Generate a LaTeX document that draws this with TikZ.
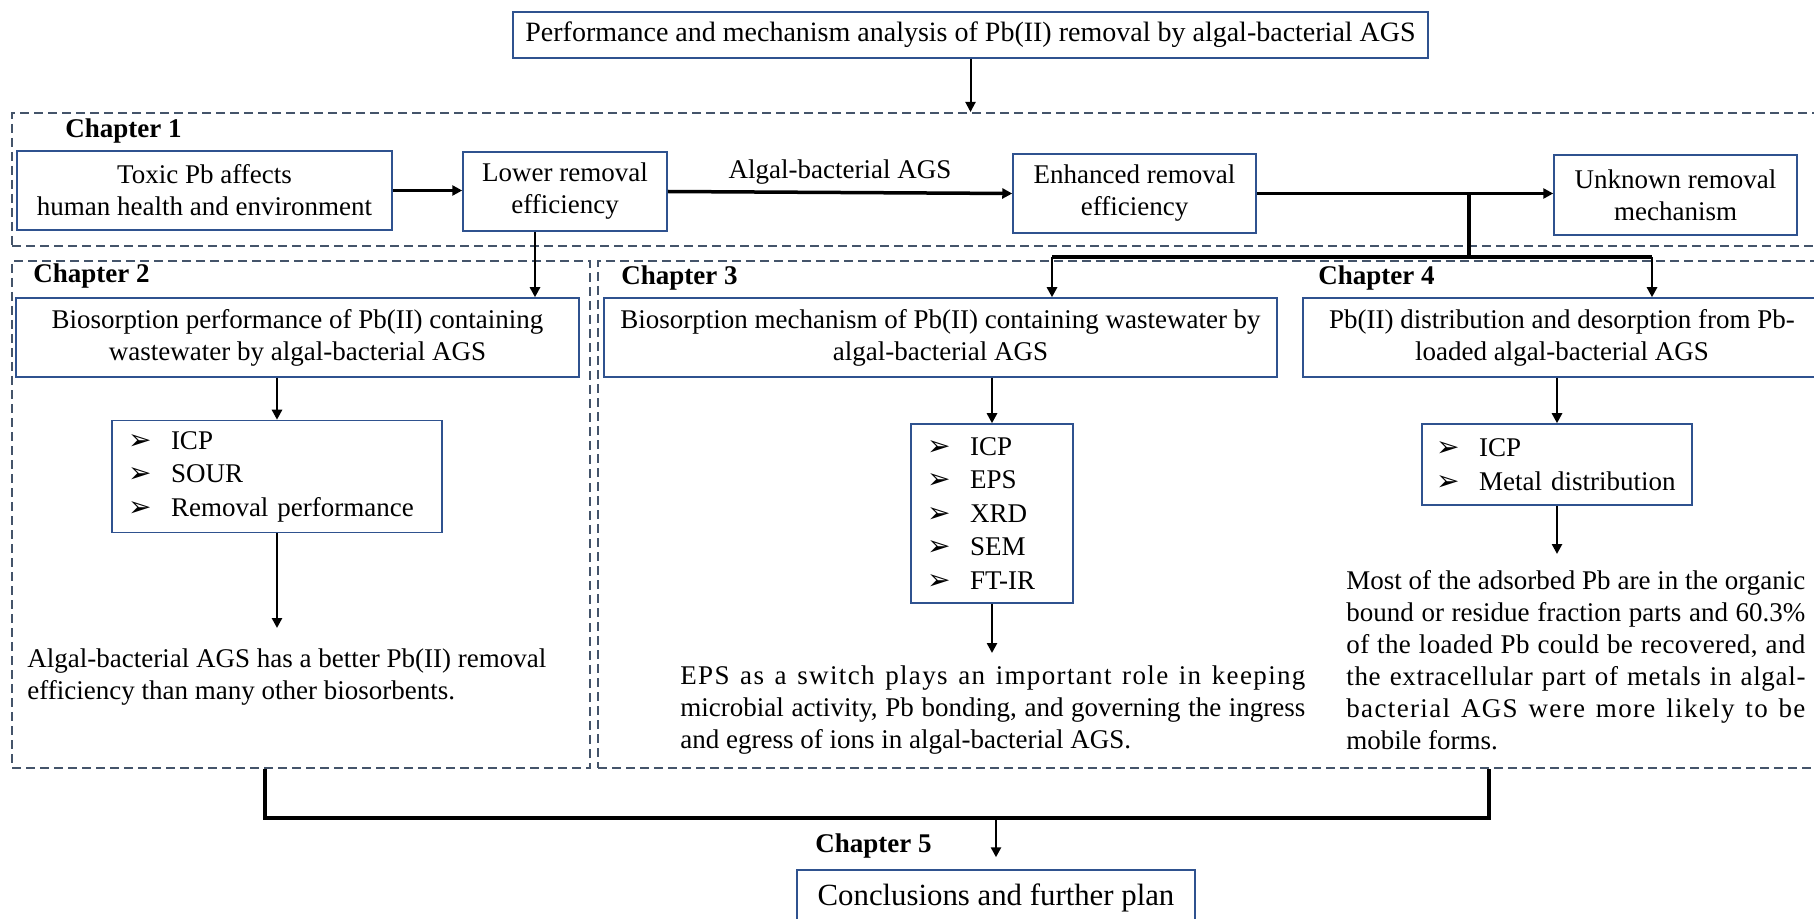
\documentclass[tikz,border=0pt]{standalone}
\usepackage{fontspec}
\setmainfont{Liberation Serif}
\newfontfamily\symfont{DejaVu Sans}
\usetikzlibrary{arrows.meta}
\definecolor{boxblue}{RGB}{47,82,143}
\definecolor{dashblue}{RGB}{68,84,106}
\newcommand{\bul}{\makebox[21.5pt][l]{\symfont\fontsize{14}{10}\selectfont ➢}}
\newcommand{\jline}[3]{{\addfontfeature{LetterSpace=#2}\makebox[#1][s]{#3}}}

\begin{document}
\begin{tikzpicture}[x=0.5pt, y=-0.5pt,
txt/.style={font=\fontsize{13.5}{16}\selectfont},
block/.style={rectangle, draw=boxblue, line width=0.75pt, align=center, inner sep=0pt, txt},
listbox/.style={block, align=left, font=\fontsize{13.5}{16.75}\selectfont},
chapframe/.style={rectangle, draw=dashblue, line width=1pt, dash pattern=on 4.5pt off 2.5pt, inner sep=0pt},
chaplabel/.style={anchor=base west, inner sep=0pt, font=\bfseries\fontsize{13.5}{16}\selectfont},
result/.style={anchor=north west, inner sep=0pt, align=left, txt},
arrow/.style={-{Triangle[length=5pt,width=5pt]}, line width=1.25pt},
hline/.style={arrow, line width=1.75pt},
joint/.style={line width=1.75pt},
]
\useasboundingbox (0,0) rectangle (1814,919);
\node[block, minimum width=457.5pt, minimum height=23pt, font=\fontsize{14}{16}\selectfont] (title) at (970.5,35) {Performance and mechanism analysis of Pb(II) removal by algal-bacterial AGS};

\node[chapframe, minimum width=909pt, minimum height=66.5pt] (ch1) at (921,179.5) {};
\node[chapframe, minimum width=289pt, minimum height=253.5pt] (ch2) at (301,514.5) {};
\node[chapframe, minimum width=616pt, minimum height=253.5pt] (ch34) at (1214,514.5) {};
\node[chaplabel] (lab1) at (65,138) {Chapter 1};
\node[chaplabel] (lab2) at (33,283) {Chapter 2};
\node[chaplabel] (lab3) at (621,285) {Chapter 3};
\node[chaplabel] (lab4) at (1318,285) {Chapter 4};
\node[chaplabel] (lab5) at (815,852) {Chapter 5};

\node[block, minimum width=187.5pt, minimum height=39.5pt] (toxic) at (204.5,190.5) {Toxic Pb affects\\human health and environment};
\node[block, minimum width=102pt, minimum height=39.5pt] (lower) at (565,191.5) {Lower removal\\efficiency};
\node[block, minimum width=121.5pt, minimum height=39.5pt] (enhanced) at (1134.5,193.5) {Enhanced removal\\efficiency};
\node[block, minimum width=121.5pt, minimum height=40pt] (unknown) at (1675.5,195) {Unknown removal\\mechanism};

\node[block, minimum width=281.5pt, minimum height=39.5pt] (bioperf) at (297.5,337.5) {Biosorption performance of Pb(II) containing\\wastewater by algal-bacterial AGS};
\node[block, minimum width=336.5pt, minimum height=39.5pt] (biomech) at (940.5,337.5) {Biosorption mechanism of Pb(II) containing wastewater by\\algal-bacterial AGS};
\node[block, minimum width=259pt, minimum height=39.5pt] (distrib) at (1562,337.5) {Pb(II) distribution and desorption from Pb-\\loaded algal-bacterial AGS};

\node[listbox, text width=149pt, inner xsep=8pt, minimum height=56pt] (list2) at (277,476.5) {\bul ICP\\\bul SOUR\\\bul Removal performance};
\node[listbox, text width=65pt, inner xsep=8pt, minimum height=89.5pt] (list3) at (992,513.5) {\bul ICP\\\bul EPS\\\bul XRD\\\bul SEM\\\bul FT-IR};
\node[listbox, text width=121pt, inner xsep=7pt, minimum height=40.5pt] (list4) at (1557,464.5) {\bul ICP\\\bul Metal distribution};

\node[result] (res2) at (27,648) {Algal-bacterial AGS has a better Pb(II) removal\\efficiency than many other biosorbents.};
\node[result] (res3) at (680,665) {\jline{312.5pt}{5}{EPS as a switch plays an important role in keeping}\\\jline{312.5pt}{0}{microbial activity, Pb bonding, and governing the ingress}\\and egress of ions in algal-bacterial AGS.};
\node[result] (res4) at (1346,570) {\jline{229.5pt}{0}{Most of the adsorbed Pb are in the organic}\\\jline{229.5pt}{0}{bound or residue fraction parts and 60.3\%}\\\jline{229.5pt}{1.5}{of the loaded Pb could be recovered, and}\\\jline{229.5pt}{2.5}{the extracellular part of metals in algal-}\\\jline{229.5pt}{5}{bacterial AGS were more likely to be}\\mobile forms.};

\node[block, minimum width=199pt, minimum height=28pt, font=\fontsize{15.4}{18}\selectfont] (concl) at (996,898) {Conclusions and further plan};

\coordinate (split) at (1469,257);
\coordinate (to3) at (1052,257);
\coordinate (to4) at (1652,257);
\coordinate (m2) at (265,818);
\coordinate (m4) at (1489,818);

\draw[arrow, line width=1pt] (title) -- (title |- ch1.north);
\draw[hline] (toxic.east) -- (toxic.east -| lower.west);
\draw[hline] (lower.east) -- (enhanced.west) node[midway, above, txt] (agent) {Algal-bacterial AGS};
\draw[hline] (enhanced.east) -- (enhanced.east -| unknown.west);
\draw[joint] (split |- enhanced.east) -- (split);
\draw[joint] (to3) -- (to4);
\draw[arrow] (to3) -- (to3 |- biomech.north);
\draw[arrow] (to4) -- (to4 |- distrib.north);
\draw[arrow] ([xshift=-15pt]lower.south) -- ([xshift=-15pt]lower.south |- bioperf.north);

\draw[arrow] (list2.north |- bioperf.south) -- (list2.north);
\draw[arrow, shorten >=10pt] (list2.south) -- (list2.south |- res2.north);
\draw[arrow] (list3.north |- biomech.south) -- (list3.north);
\draw[arrow, shorten >=6pt] (list3.south) -- (list3.south |- res3.north);
\draw[arrow] (list4.north |- distrib.south) -- (list4.north);
\draw[arrow, shorten >=8pt] (list4.south) -- (list4.south |- res4.north);

\draw[joint] (m2 |- ch2.south) -- (m2) -- (m4) -- (m4 |- ch34.south);
\draw[arrow, shorten >=6pt] (concl.north |- m2) -- (concl.north);
\end{tikzpicture}
\end{document}
